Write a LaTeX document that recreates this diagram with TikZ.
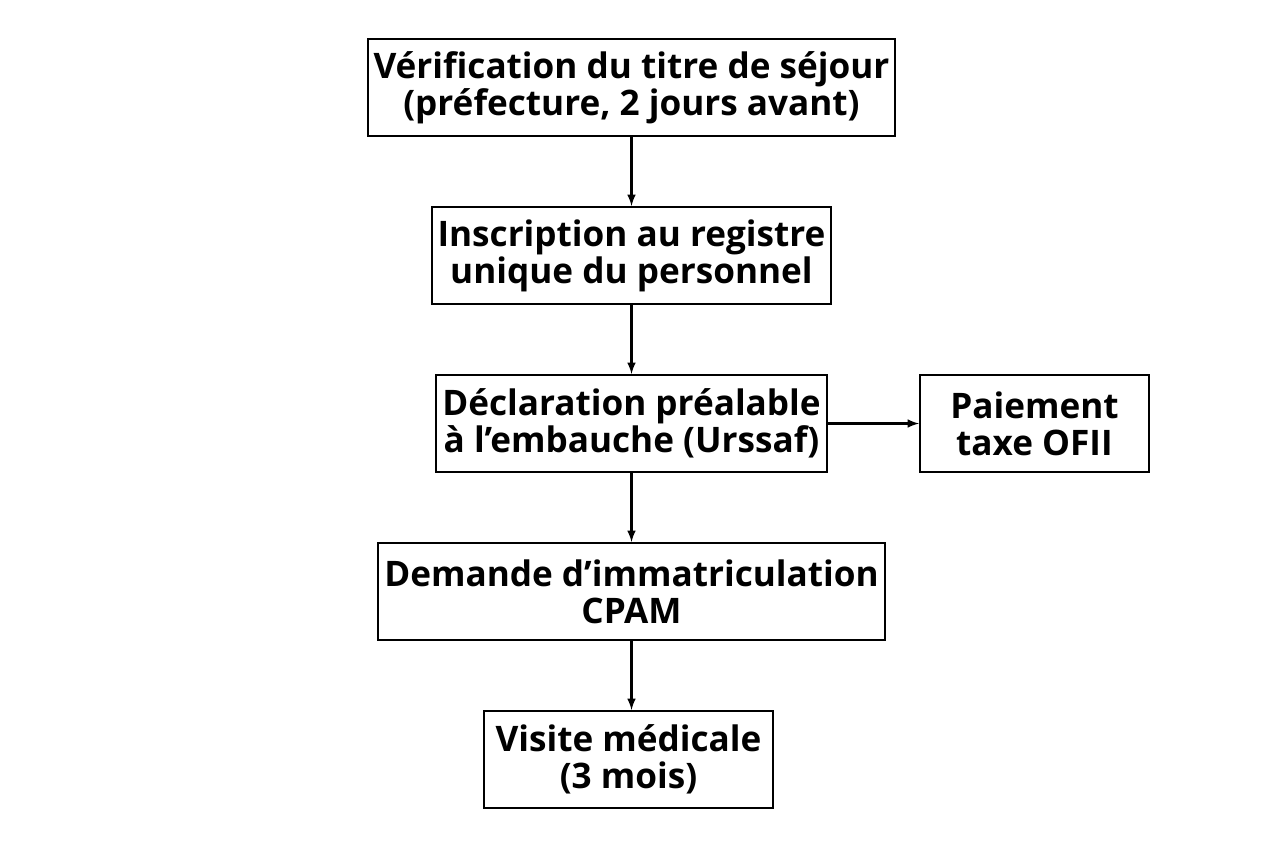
\documentclass[tikz,border=0pt]{standalone}
\usepackage{fontspec}
\setmainfont{Open Sans}
\usepackage{tikz}
\begin{document}
\begin{tikzpicture}[line width = 1.2pt,
                        stage/.style = {rectangle, draw, fill = white, minimum height = 1.94cm, align = center,
                                       font = \fontsize{20}{21}\selectfont\bfseries},
                        flow/.style = {-latex}]
        \useasboundingbox (0,0) rectangle (25.28,-16.96);
        \node [stage, minimum width = 9.74cm] (S1) at (12.63,-1.75) {Vérification du titre de séjour\\(préfecture, 2 jours avant)};
        \node [stage, minimum width = 7.62cm] (S2) at (12.63,-5.11) {Inscription au registre\\unique du personnel};
        \node [stage, minimum width = 7.62cm] (S3) at (12.63,-8.47) {Déclaration préalable\\à l’embauche (Urssaf)};
        \node [stage, minimum width = 4.58cm] (S4) at (20.69,-8.47) {Paiement\\taxe OFII};
        \node [stage, minimum width = 9.30cm] (S5) at (12.63,-11.83) {Demande d’immatriculation\\CPAM};
        \node [stage, minimum width = 5.78cm] (S6) at (12.57,-15.19) {Visite médicale\\(3 mois)};

        \draw [flow] (S1) -- (S2);
        \draw [flow] (S2) -- (S3);
        \draw [flow] (S3) -- (S4);
        \draw [flow] (S3) -- (S5);
        \draw [flow] (S5.south -| S3) -- (S6.north -| S3);
        \end{tikzpicture}
\end{document}
